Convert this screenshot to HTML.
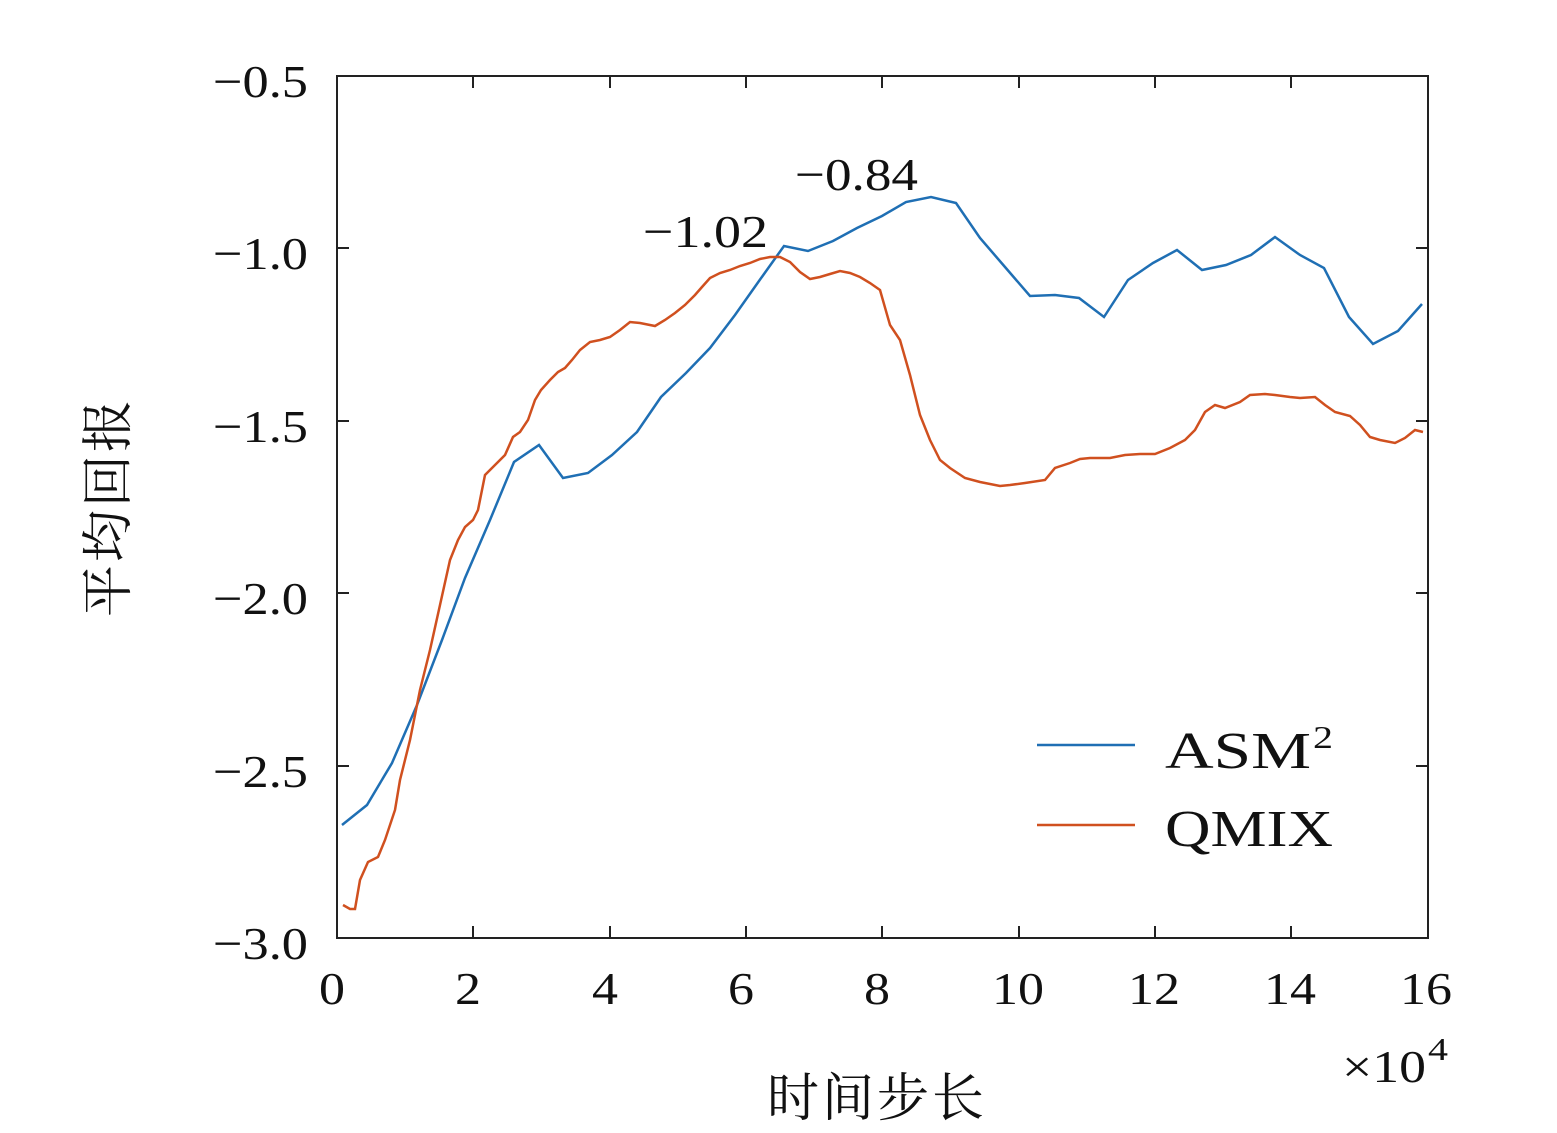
<!DOCTYPE html>
<html><head><meta charset="utf-8"><style>
html,body{margin:0;padding:0;background:#fff}
svg text{font-family:"Liberation Serif","Noto Serif CJK SC",serif;fill:#111}
</style></head><body>
<svg width="1557" height="1128" viewBox="0 0 1557 1128" xmlns="http://www.w3.org/2000/svg">
<rect x="337" y="76" width="1091" height="862" fill="none" stroke="#222" stroke-width="2"/>
<g stroke="#222" stroke-width="2">
<line x1="473" y1="938" x2="473" y2="926"/><line x1="473" y1="76" x2="473" y2="88"/>
<line x1="610" y1="938" x2="610" y2="926"/><line x1="610" y1="76" x2="610" y2="88"/>
<line x1="746" y1="938" x2="746" y2="926"/><line x1="746" y1="76" x2="746" y2="88"/>
<line x1="882" y1="938" x2="882" y2="926"/><line x1="882" y1="76" x2="882" y2="88"/>
<line x1="1019" y1="938" x2="1019" y2="926"/><line x1="1019" y1="76" x2="1019" y2="88"/>
<line x1="1155" y1="938" x2="1155" y2="926"/><line x1="1155" y1="76" x2="1155" y2="88"/>
<line x1="1291" y1="938" x2="1291" y2="926"/><line x1="1291" y1="76" x2="1291" y2="88"/>
<line x1="337" y1="248" x2="349" y2="248"/><line x1="1428" y1="248" x2="1416" y2="248"/>
<line x1="337" y1="421" x2="349" y2="421"/><line x1="1428" y1="421" x2="1416" y2="421"/>
<line x1="337" y1="593" x2="349" y2="593"/><line x1="1428" y1="593" x2="1416" y2="593"/>
<line x1="337" y1="766" x2="349" y2="766"/><line x1="1428" y1="766" x2="1416" y2="766"/>
</g>
<g font-size="46">
<text x="213" y="97" textLength="95" lengthAdjust="spacingAndGlyphs">−0.5</text>
<text x="213" y="269" textLength="95" lengthAdjust="spacingAndGlyphs">−1.0</text>
<text x="213" y="442" textLength="95" lengthAdjust="spacingAndGlyphs">−1.5</text>
<text x="213" y="614" textLength="95" lengthAdjust="spacingAndGlyphs">−2.0</text>
<text x="213" y="787" textLength="95" lengthAdjust="spacingAndGlyphs">−2.5</text>
<text x="213" y="959" textLength="95" lengthAdjust="spacingAndGlyphs">−3.0</text>
</g>
<g font-size="46">
<text x="319" y="1004" textLength="26" lengthAdjust="spacingAndGlyphs">0</text>
<text x="455" y="1004" textLength="26" lengthAdjust="spacingAndGlyphs">2</text>
<text x="592" y="1004" textLength="26" lengthAdjust="spacingAndGlyphs">4</text>
<text x="728" y="1004" textLength="26" lengthAdjust="spacingAndGlyphs">6</text>
<text x="864" y="1004" textLength="26" lengthAdjust="spacingAndGlyphs">8</text>
<text x="992" y="1004" textLength="52" lengthAdjust="spacingAndGlyphs">10</text>
<text x="1128" y="1004" textLength="52" lengthAdjust="spacingAndGlyphs">12</text>
<text x="1264" y="1004" textLength="52" lengthAdjust="spacingAndGlyphs">14</text>
<text x="1400" y="1004" textLength="52" lengthAdjust="spacingAndGlyphs">16</text>
</g>
<text x="1342" y="1082" font-size="46" textLength="84" lengthAdjust="spacingAndGlyphs">×10</text>
<text x="1428" y="1060" font-size="32" textLength="20" lengthAdjust="spacingAndGlyphs">4</text>
<text x="877" y="1116" font-size="52" text-anchor="middle" letter-spacing="3">时间步长</text>
<text transform="translate(126,507) rotate(-90)" font-size="52" text-anchor="middle" letter-spacing="3">平均回报</text>
<text x="795" y="190" font-size="46" textLength="123" lengthAdjust="spacingAndGlyphs">−0.84</text>
<text x="643" y="247" font-size="46" textLength="125" lengthAdjust="spacingAndGlyphs">−1.02</text>
<polyline fill="none" stroke="#1f6fb4" stroke-width="2.5" points="342,825 367,805 392,763 417,705 442,640 465,578 490,520 514,462 539,445 563,478 588,473 612,455 637,432 661,397 686,373 710,348 735,315 759,281 784,246 808,251 833,241 857,228 882,216 906,202 931,197 956,203 980,238 1005,267 1030,296 1055,295 1079,298 1104,317 1128,280 1153,263 1177,250 1202,270 1226,265 1251,255 1275,237 1300,255 1324,268 1349,317 1373,344 1398,331 1422,304"/>
<polyline fill="none" stroke="#d0501f" stroke-width="2.5" points="343,905 350,909 355,909 360,880 368,862 378,857 385,840 395,810 400,780 410,740 420,690 430,650 440,605 450,560 458,540 465,527 473,520 478,510 485,475 495,465 505,455 513,437 520,432 528,420 535,400 541,390 550,380 558,372 565,368 572,360 580,350 590,342 600,340 610,337 620,330 630,322 640,323 655,326 665,320 675,313 685,305 695,295 702,287 710,278 720,273 730,270 740,266 750,263 760,259 770,257 780,257 790,262 800,272 810,279 820,277 830,274 840,271 850,273 860,277 870,283 880,290 890,325 900,340 910,375 920,415 930,440 940,460 950,468 965,478 980,482 1000,486 1010,485 1025,483 1045,480 1055,468 1070,463 1080,459 1090,458 1110,458 1125,455 1140,454 1155,454 1170,448 1185,440 1195,430 1205,412 1215,405 1225,408 1240,402 1250,395 1265,394 1275,395 1290,397 1300,398 1315,397 1325,405 1335,412 1350,416 1360,425 1370,437 1380,440 1395,443 1405,438 1415,430 1423,432"/>
<line x1="1037" y1="745" x2="1135" y2="745" stroke="#1f6fb4" stroke-width="2.5"/>
<line x1="1037" y1="825" x2="1135" y2="825" stroke="#d0501f" stroke-width="2.5"/>
<text x="1165" y="768" font-size="52" textLength="146" lengthAdjust="spacingAndGlyphs">ASM</text>
<text x="1313" y="748" font-size="32" textLength="20" lengthAdjust="spacingAndGlyphs">2</text>
<text x="1165" y="846" font-size="52" textLength="168" lengthAdjust="spacingAndGlyphs">QMIX</text>
</svg>
</body></html>
